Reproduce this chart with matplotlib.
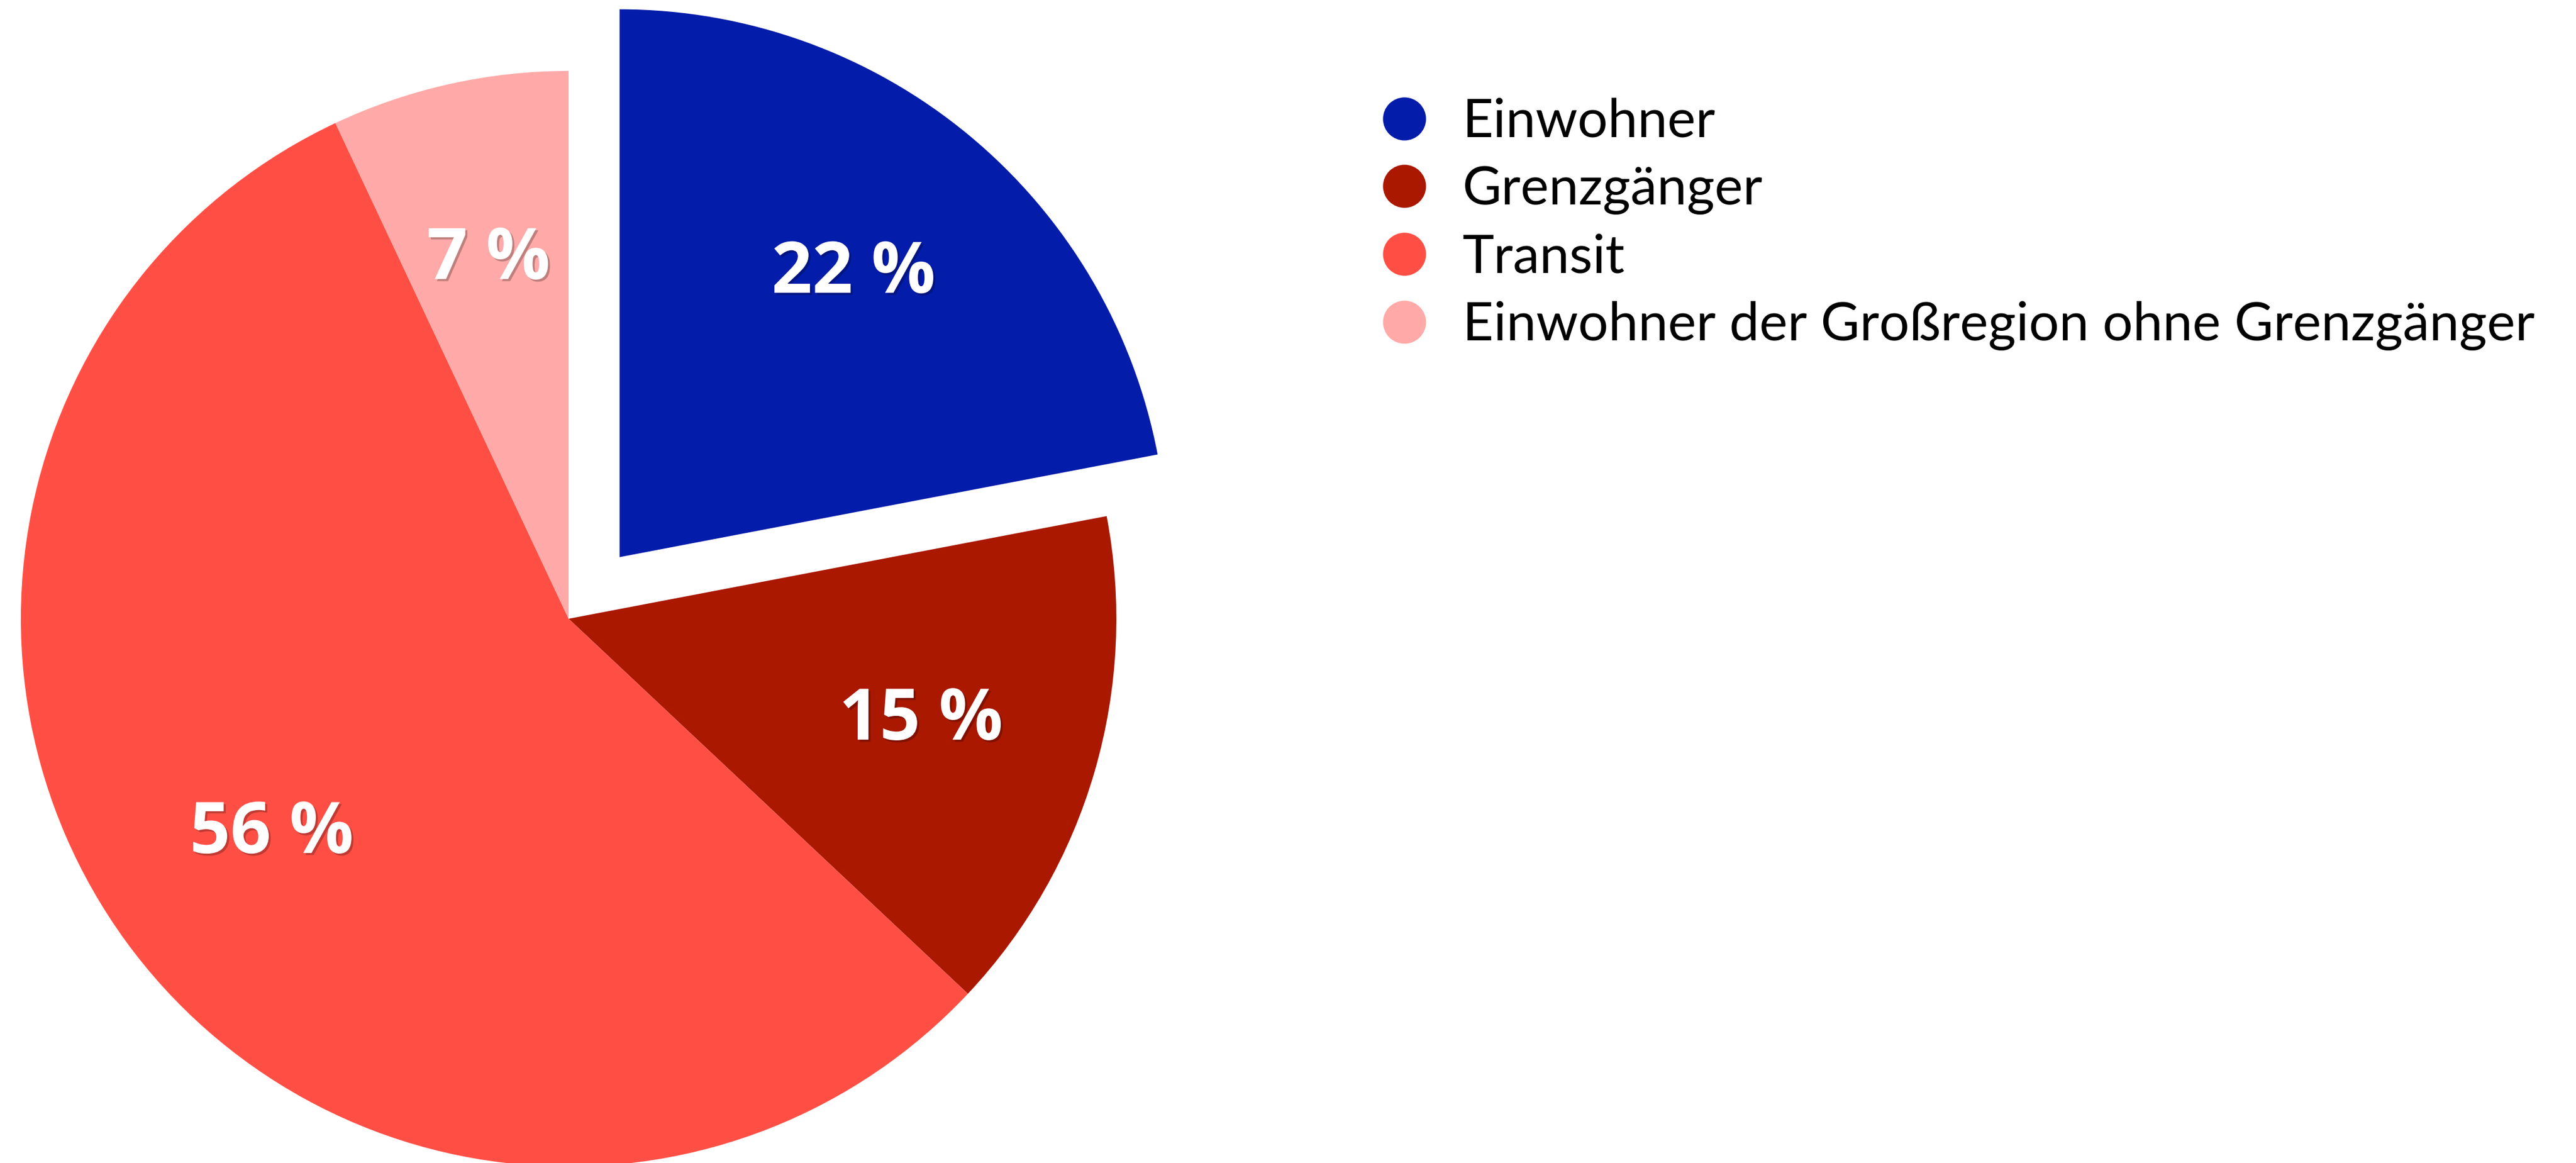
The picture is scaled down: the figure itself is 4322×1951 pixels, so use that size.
import matplotlib
matplotlib.use("Agg")
import matplotlib.pyplot as plt
from matplotlib.lines import Line2D
import matplotlib.patheffects as pe

categories = ["Einwohner", "Grenzgänger", "Transit",
              "Einwohner der Großregion ohne Grenzgänger"]
values = [22, 15, 56, 7]
colors = ["#031CAA", "#AA1800", "#FF4F45", "#FFAAA8"]
explode = [0.146, 0, 0, 0]

W, H = 4322, 1951
DPI = 100
fig = plt.figure(figsize=(W / DPI, H / DPI), dpi=DPI)
fig.patch.set_facecolor("white")

# pie geometry in pixels
cx, cy_top, R, S = 954, 1038, 919, 1100
ax = fig.add_axes([(cx - S) / W, (H - cy_top - S) / H, 2 * S / W, 2 * S / H])

shadow = [pe.SimplePatchShadow(offset=(2.5, -2.5), shadow_rgbFace="black", alpha=0.25),
          pe.Normal()]

wedges, texts, autotexts = ax.pie(
    values, colors=colors, explode=explode, startangle=90, counterclock=False,
    autopct=lambda p: f"{p:.0f} %", pctdistance=0.67,
    wedgeprops=dict(linewidth=0),
    textprops=dict(color="white", fontsize=86, fontweight="bold", family="Open Sans"))
for t in autotexts:
    t.set_path_effects(shadow)

lim = S / R
ax.set_xlim(-lim, lim)
ax.set_ylim(-lim, lim)
ax.set_aspect("equal")
ax.axis("off")

handles = [Line2D([], [], linestyle="none", marker="o", markersize=51,
                  markerfacecolor=c, markeredgecolor=c) for c in colors]
leg = fig.legend(handles, categories, loc="upper left",
                 bbox_to_anchor=(2322 / W, 1 - 164 / H),
                 frameon=False, prop=dict(family="Lato", size=64.5),
                 handlelength=0.77, handletextpad=0.70, labelspacing=0.35,
                 borderpad=0, borderaxespad=0)

fig.savefig("out.png", dpi=DPI, facecolor="white")
